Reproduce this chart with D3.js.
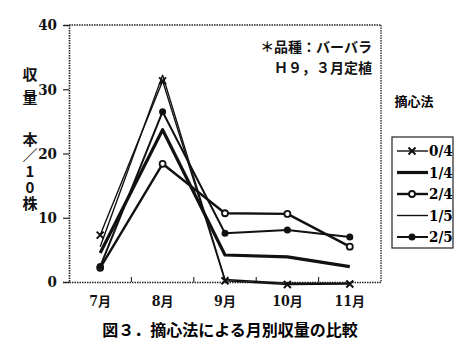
<!DOCTYPE html>
<html><head><meta charset="utf-8">
<script src="https://cdn.jsdelivr.net/npm/d3@7"></script>
<style>
body{margin:0;background:#fff;}
svg{display:block;}
.jp{font-family:"Noto Sans CJK JP",sans-serif;font-weight:bold;}
.num{font-family:"DejaVu Serif Condensed","Liberation Serif",serif;font-weight:bold;font-stretch:condensed;}
.vert{writing-mode:vertical-rl;text-orientation:upright;font-feature-settings:"vert" 0,"vrt2" 0;}
</style></head>
<body>
<script>
const months = ["7月","8月","9月","10月","11月"];
const yTicks = [0,10,20,30,40];
const seriesNames = ["0/4","1/4","2/4","1/5","2/5"];
const s04 = [7.3, 31.3, 0.2, -0.4, -0.3];
const s14 = [4.5, 23.7, 4.2, 3.9, 2.4];
const s24 = [2.2, 18.4, 10.7, 10.6, 5.5];
const s15 = [5.5, 32.2, 0.4, -0.2, -0.2];
const s25 = [2.4, 26.5, 7.6, 8.1, 7.0];
const yLabel1 = "収量";
const yLabel2 = "本／10株";
const noteLines = ["＊品種：バーバラ","Ｈ９，３月定植"];
const legendTitle = "摘心法";
const caption = "図３．摘心法による月別収量の比較";

const series = [
  {name:seriesNames[0], values:s04, w:1.4, marker:"x"},
  {name:seriesNames[1], values:s14, w:3.2, marker:null},
  {name:seriesNames[2], values:s24, w:2.4, marker:"open"},
  {name:seriesNames[3], values:s15, w:1.4, marker:null},
  {name:seriesNames[4], values:s25, w:2.0, marker:"dot"}
];

const W=474,H=356;
const svg=d3.select("body").append("svg").attr("width",W).attr("height",H);
const L=69,R=381,T=25,B=282;
const x=d3.scaleBand().domain(months).range([L,R]);
const y=d3.scaleLinear().domain([0,40]).range([B,T]);

// frame (dotted)
const frame=svg.append("g").attr("stroke","#222").attr("stroke-width",1.3).attr("stroke-dasharray","1.5,1").attr("fill","none");
frame.append("line").attr("x1",L).attr("x2",R).attr("y1",T).attr("y2",T);
frame.append("line").attr("x1",R).attr("x2",R).attr("y1",T).attr("y2",B);

// left axis
const ya=svg.append("g").attr("transform",`translate(${L},0)`).call(d3.axisLeft(y).tickValues(yTicks).tickSize(6).tickPadding(6));
ya.select(".domain").attr("stroke","#222").attr("stroke-width",1.6).attr("stroke-dasharray","1.5,1");
ya.selectAll(".tick line").attr("stroke","#222").attr("stroke-width",1.2);
ya.selectAll(".tick text").attr("class","num").attr("font-size",15).attr("fill","#111");

// bottom axis
const xa=svg.append("g").attr("transform",`translate(0,${B})`).call(d3.axisBottom(x).tickSize(0).tickPadding(14));
xa.select(".domain").attr("stroke","#222").attr("stroke-width",1.6).attr("stroke-dasharray","1.5,1");
xa.selectAll(".tick text").attr("fill","#111").attr("font-size",14).each(function(d){
  const t=d3.select(this); t.text(null);
  const m=d.match(/^(\d+)(.*)$/);
  t.append("tspan").attr("class","num").text(m[1]);
  t.append("tspan").attr("class","jp").attr("font-size",13).text(m[2]);
});
// inner ticks at band boundaries
svg.append("g").selectAll("line").data(months.slice(1)).join("line")
  .attr("x1",d=>x(d)).attr("x2",d=>x(d)).attr("y1",B).attr("y2",B-5)
  .attr("stroke","#222").attr("stroke-width",1.1);

const cx=i=>x(months[i])+x.bandwidth()/2;
const line=d3.line().x((d,i)=>cx(i)).y(d=>y(d));

// lines
const g=svg.append("g");
series.forEach(s=>{
  g.append("path").datum(s.values).attr("d",line).attr("fill","none")
   .attr("stroke","#111").attr("stroke-width",s.w).attr("stroke-linejoin","round");
});
function drawMarker(sel,type,px,py){
  if(type==="x"){
    const r=3.5;
    sel.append("path").attr("d",`M${px-r},${py-r}L${px+r},${py+r}M${px-r},${py+r}L${px+r},${py-r}`)
      .attr("stroke","#111").attr("stroke-width",2);
  }else if(type==="open"){
    sel.append("circle").attr("cx",px).attr("cy",py).attr("r",3).attr("fill","#fff").attr("stroke","#111").attr("stroke-width",1.8);
  }else if(type==="dot"){
    sel.append("circle").attr("cx",px).attr("cy",py).attr("r",3.5).attr("fill","#111");
  }
}
series.forEach(s=>{
  if(!s.marker) return;
  s.values.forEach((v,i)=>drawMarker(g,s.marker,cx(i),y(v)));
});

// y label (vertical)
svg.append("text").attr("class","jp vert").attr("font-size",15).attr("fill","#111")
  .attr("x",30).attr("y",67).style("letter-spacing","8px").text(yLabel1);
svg.append("text").attr("class","jp vert").attr("font-size",15).attr("fill","#111")
  .attr("x",30).attr("y",132).style("letter-spacing","1px").text(yLabel2);

// note
svg.append("g").attr("class","jp").attr("font-size",14).attr("fill","#111").attr("text-anchor","end")
  .selectAll("text").data(noteLines).join("text").attr("x",372).attr("y",(d,i)=>47+i*21).attr("dy","0.35em").text(d=>d);

// legend
svg.append("text").attr("class","jp").attr("font-size",13).attr("x",414).attr("y",101).attr("dy","0.35em").attr("text-anchor","middle").text(legendTitle);
svg.append("rect").attr("x",392).attr("y",137).attr("width",61).attr("height",111).attr("fill","none").attr("stroke","#222").attr("stroke-width",1.2);
const lg=svg.append("g");
series.forEach((s,i)=>{
  const ly=151+i*21.5;
  lg.append("line").attr("x1",397).attr("x2",428).attr("y1",ly).attr("y2",ly).attr("stroke","#111").attr("stroke-width",s.w);
  if(s.marker) drawMarker(lg,s.marker,412,ly);
  lg.append("text").attr("class","num").attr("font-size",15).attr("x",429).attr("y",ly).attr("dy","0.35em").text(s.name);
});

// caption
svg.append("text").attr("class","jp").attr("font-size",16).attr("x",230).attr("y",330).attr("dy","0.35em").attr("text-anchor","middle").text(caption);
</script>
</body></html>
